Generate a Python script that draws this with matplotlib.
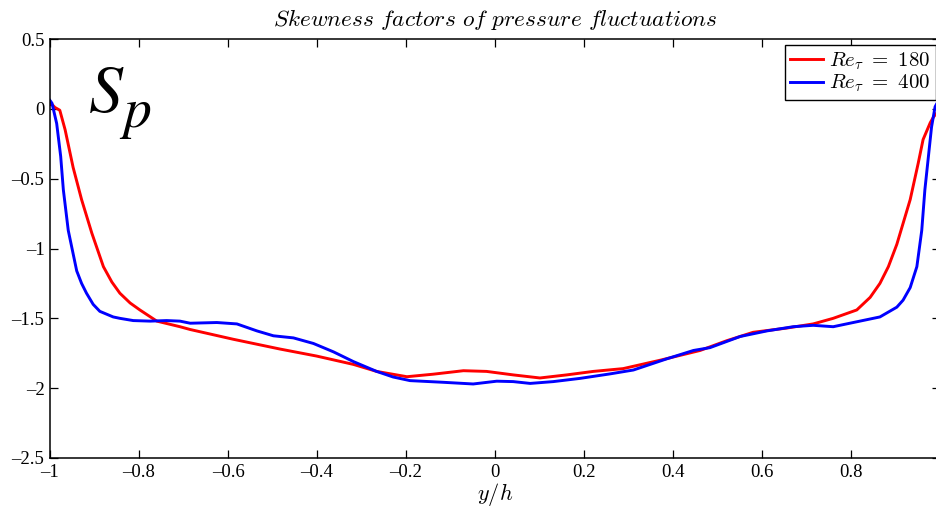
import matplotlib
matplotlib.use("Agg")
import matplotlib.pyplot as plt

plt.rcParams["font.family"] = "Liberation Serif"
plt.rcParams["mathtext.fontset"] = "cm"

# skewness of pressure fluctuations, Re_tau = 180
y_180 = [-1.0, -0.995, -0.989, -0.978, -0.966, -0.948, -0.929, -0.906, -0.880,
         -0.861, -0.843, -0.820, -0.798, -0.760, -0.708, -0.685, -0.588, -0.483,
         -0.401, -0.318, -0.266, -0.198, -0.139, -0.071, -0.019, 0.041, 0.101,
         0.161, 0.221, 0.288, 0.371, 0.461, 0.521, 0.580, 0.655, 0.715, 0.760,
         0.813, 0.843, 0.865, 0.884, 0.903, 0.933, 0.951, 0.962, 0.978, 0.985, 1.0]
sp_180 = [0.03, 0.03, 0.01, -0.01, -0.15, -0.42, -0.65, -0.89, -1.13,
          -1.24, -1.32, -1.39, -1.44, -1.52, -1.56, -1.58, -1.65, -1.72,
          -1.77, -1.83, -1.88, -1.918, -1.90, -1.875, -1.88, -1.905, -1.927,
          -1.905, -1.88, -1.86, -1.80, -1.73, -1.66, -1.60, -1.57, -1.54, -1.50,
          -1.44, -1.35, -1.25, -1.13, -0.97, -0.65, -0.39, -0.22, -0.10, -0.06, 0.0]

# Re_tau = 400
y_400 = [-1.0, -0.9955, -0.985, -0.976, -0.970, -0.959, -0.940, -0.929, -0.918,
         -0.903, -0.888, -0.858, -0.843, -0.813, -0.775, -0.738, -0.708, -0.685,
         -0.625, -0.580, -0.535, -0.498, -0.453, -0.408, -0.363, -0.318, -0.266,
         -0.229, -0.191, -0.116, -0.049, 0.004, 0.041, 0.079, 0.131, 0.191, 0.258,
         0.311, 0.386, 0.446, 0.483, 0.551, 0.611, 0.670, 0.715, 0.760, 0.805,
         0.865, 0.903, 0.917, 0.933, 0.948, 0.959, 0.966, 0.974, 0.981, 0.989, 1.0]
sp_400 = [0.06, 0.04, -0.105, -0.34, -0.58, -0.87, -1.16, -1.25, -1.32,
          -1.40, -1.45, -1.49, -1.50, -1.516, -1.52, -1.516, -1.52, -1.535,
          -1.53, -1.54, -1.59, -1.625, -1.64, -1.68, -1.74, -1.81, -1.88,
          -1.92, -1.946, -1.958, -1.97, -1.95, -1.953, -1.966, -1.953, -1.93, -1.898,
          -1.87, -1.79, -1.73, -1.71, -1.63, -1.59, -1.56, -1.55, -1.56, -1.53,
          -1.49, -1.42, -1.37, -1.28, -1.13, -0.87, -0.58, -0.34, -0.13, 0.015, 0.08]

xticks = [-1, -0.8, -0.6, -0.4, -0.2, 0, 0.2, 0.4, 0.6, 0.8]
yticks = [-2.5, -2, -1.5, -1, -0.5, 0, 0.5]


def fmt(t):
    return ("%g" % t).replace("-", "\u2013")


fig = plt.figure(figsize=(9.36, 5.07), dpi=100)
# the original image is cropped just before the right spine
ax = fig.add_axes([50 / 936, 49 / 507, 890 / 936, 419 / 507])

ax.plot(y_180, sp_180, color="red", lw=2.1, label=r"$Re_\tau\ =\ 180$")
ax.plot(y_400, sp_400, color="blue", lw=2.1, label=r"$Re_\tau\ =\ 400$")

ax.set_xlim(-1, 1)
ax.set_ylim(-2.5, 0.5)
ax.set_xticks(xticks)
ax.set_yticks(yticks)
ax.set_xticklabels([fmt(t) for t in xticks])
ax.set_yticklabels([fmt(t) for t in yticks])
ax.tick_params(direction="in", top=True, right=True, length=5.5, width=0.9,
               labelsize=13.5, pad=4)
for s in ax.spines.values():
    s.set_linewidth(1.1)

ax.set_title(r"$Skewness\ factors\ of\ pressure\ fluctuations$", fontsize=16.8, pad=9)
ax.set_xlabel(r"$y/h$", fontsize=16, labelpad=0.5)

# big S_p label, S and p drawn separately so the subscript sits low like the original
fig.text(88 / 936, (507 - 112) / 507, r"$S$", fontsize=49, math_fontfamily="stix",
         ha="left", va="baseline")
fig.text(119 / 936, (507 - 127) / 507, r"$p$", fontsize=40, math_fontfamily="stix",
         ha="left", va="baseline")

leg = ax.legend(loc="upper right", bbox_to_anchor=(936 / 936, 462 / 507),
                bbox_transform=fig.transFigure, borderaxespad=0, fontsize=15,
                fancybox=False, framealpha=1, edgecolor="black",
                handlelength=1.6, handletextpad=0.3, borderpad=0.25,
                labelspacing=0.05)
leg.get_frame().set_linewidth(1.0)

fig.savefig("out.png", dpi=100)
